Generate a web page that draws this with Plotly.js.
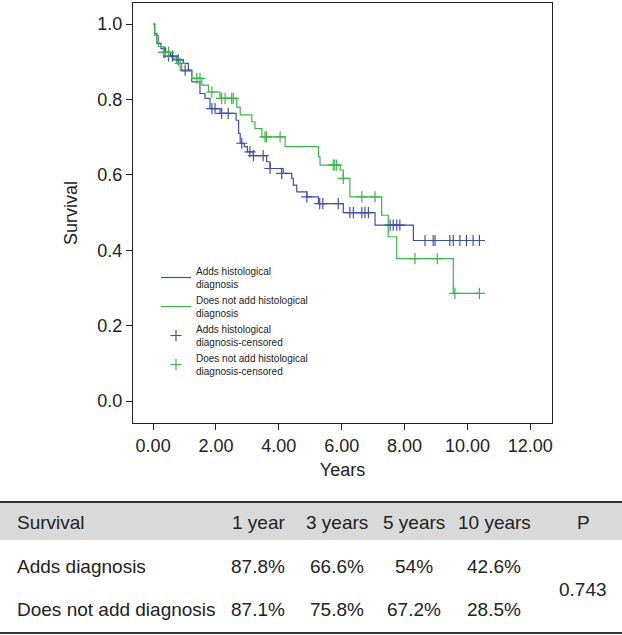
<!DOCTYPE html>
<html>
<head>
<meta charset="utf-8">
<script src="https://cdn.plot.ly/plotly-3.0.1.min.js"></script>
<style>html,body{margin:0;padding:0;background:#fff;}#chart{width:622px;height:635px;}</style>
</head>
<body>
<div id="chart"></div>
<script>
// ---- Kaplan-Meier data ----
var addsTimes = [0, 0.05, 0.12, 0.25, 0.40, 0.55, 0.75, 0.96, 1.12, 1.23, 1.49, 1.65, 1.81, 2.13, 2.64, 2.72, 2.77, 2.90, 3.00, 3.19, 3.61, 3.72, 4.14, 4.41, 4.46, 4.57, 4.89, 5.26, 6.05, 7.06, 8.28, 10.38];
var addsSurv  = [1.0, 0.975, 0.949, 0.935, 0.925, 0.915, 0.905, 0.896, 0.878, 0.847, 0.816, 0.803, 0.776, 0.763, 0.745, 0.71, 0.684, 0.675, 0.661, 0.651, 0.635, 0.617, 0.604, 0.591, 0.573, 0.555, 0.542, 0.524, 0.500, 0.467, 0.426, 0.426];
var addsCensTimes = [0.38, 0.49, 0.62, 0.80, 1.02, 1.87, 1.97, 2.18, 2.39, 2.82, 3.08, 3.19, 3.50, 3.72, 4.09, 4.89, 5.30, 5.40, 5.89, 6.26, 6.37, 6.64, 6.74, 6.85, 7.54, 7.64, 7.75, 7.85, 8.65, 8.91, 8.97, 9.44, 9.55, 9.76, 9.97, 10.18, 10.38];
var addsCensSurv  = [0.925, 0.915, 0.915, 0.905, 0.878, 0.776, 0.776, 0.763, 0.763, 0.684, 0.661, 0.651, 0.651, 0.617, 0.604, 0.542, 0.524, 0.524, 0.524, 0.500, 0.500, 0.500, 0.500, 0.500, 0.467, 0.467, 0.467, 0.467, 0.426, 0.426, 0.426, 0.426, 0.426, 0.426, 0.426, 0.426, 0.426];

var notTimes = [0, 0.05, 0.17, 0.35, 0.60, 0.75, 0.91, 1.23, 1.55, 1.76, 2.13, 2.66, 2.77, 3.14, 3.24, 3.46, 4.20, 5.26, 5.31, 5.95, 6.05, 6.26, 7.27, 7.48, 7.75, 9.55, 10.38];
var notSurv  = [1.0, 0.97, 0.94, 0.925, 0.91, 0.896, 0.875, 0.856, 0.838, 0.82, 0.803, 0.78, 0.759, 0.741, 0.723, 0.701, 0.675, 0.648, 0.626, 0.613, 0.591, 0.542, 0.493, 0.436, 0.378, 0.286, 0.286];
var notCensTimes = [0.33, 0.49, 0.86, 1.39, 1.49, 1.87, 2.18, 2.29, 2.50, 2.55, 3.56, 3.61, 4.04, 5.73, 5.78, 5.84, 6.05, 6.64, 7.06, 8.33, 9.04, 9.60, 10.38];
var notCensSurv  = [0.925, 0.925, 0.896, 0.856, 0.856, 0.82, 0.803, 0.803, 0.803, 0.803, 0.701, 0.701, 0.701, 0.626, 0.626, 0.626, 0.591, 0.542, 0.542, 0.378, 0.378, 0.286, 0.286];

var seriesNames = ['Adds histological<br>diagnosis', 'Does not add histological<br>diagnosis', 'Adds histological<br>diagnosis-censored', 'Does not add histological<br>diagnosis-censored'];

// ---- Table data ----
var tableHeader = ['Survival', '1 year', '3 years', '5 years', '10 years', 'P'];
var rowLabels = ['Adds diagnosis', 'Does not add diagnosis'];
var addsRates = ['87.8%', '66.6%', '54%', '42.6%'];
var notRates  = ['87.1%', '75.8%', '67.2%', '28.5%'];
var pValue = '0.743';

// ---- styling ----
var blue = '#3f51a3', green = '#3db54a';
var FONT = 'Liberation Sans, Arial, Helvetica, sans-serif';

var traces = [
  {x: addsTimes, y: addsSurv, name: seriesNames[0], mode: 'lines', line: {shape: 'hv', color: blue, width: 1.2}},
  {x: notTimes, y: notSurv, name: seriesNames[1], mode: 'lines', line: {shape: 'hv', color: green, width: 1.2}},
  {x: addsCensTimes, y: addsCensSurv, name: seriesNames[2], mode: 'markers',
   marker: {symbol: 'cross-thin', size: 8, color: blue, line: {color: blue, width: 1.2}}},
  {x: notCensTimes, y: notCensSurv, name: seriesNames[3], mode: 'markers',
   marker: {symbol: 'cross-thin', size: 8, color: green, line: {color: green, width: 1.2}}}
];

// pixel -> paper helpers (plot area: x 133..552, y 3..423)
var L = 133, R = 552, T = 3, B = 423;
function px(X) { return (X - L) / (R - L); }
function py(Y) { return (B - Y) / (B - T); }

var shapes = [
  {type: 'rect', xref: 'paper', yref: 'paper', x0: px(0), x1: px(622), y0: py(502), y1: py(540), fillcolor: '#d9d9d9', line: {width: 0}, layer: 'below'},
  {type: 'line', xref: 'paper', yref: 'paper', x0: px(0), x1: px(622), y0: py(502), y1: py(502), line: {color: '#333', width: 2}},
  {type: 'line', xref: 'paper', yref: 'paper', x0: px(0), x1: px(622), y0: py(633), y1: py(633), line: {color: '#333', width: 2}}
];

var colX = [px(15), px(287), px(337), px(414), px(494), px(583)];
var colAnchor = ['left', 'right', 'center', 'center', 'center', 'center'];
var rowY = [py(522), py(566), py(609)];
var annotations = [];
function addText(t, col, y) {
  annotations.push({text: t, xref: 'paper', yref: 'paper', x: colX[col], y: y, xanchor: colAnchor[col], yanchor: 'middle', showarrow: false, font: {family: FONT, size: 19, color: '#222'}});
}
tableHeader.forEach(function (h, i) { addText(h, i, rowY[0]); });
addText(rowLabels[0], 0, rowY[1]);
addText(rowLabels[1], 0, rowY[2]);
addsRates.forEach(function (v, i) { addText(v, i + 1, rowY[1]); });
notRates.forEach(function (v, i) { addText(v, i + 1, rowY[2]); });
addText(pValue, 5, py(589));

var layout = {
  width: 622, height: 635,
  margin: {l: L, r: 622 - R, t: T, b: 635 - B},
  paper_bgcolor: '#fff', plot_bgcolor: '#fff',
  font: {family: FONT, color: '#222'},
  showlegend: true,
  legend: {x: px(156), y: py(258), xanchor: 'left', yanchor: 'top', bgcolor: 'rgba(0,0,0,0)',
           font: {family: FONT, size: 10, color: '#222'}, itemwidth: 30, tracegroupgap: 0},
  xaxis: {range: [-0.64, 12.69], tickvals: [0, 2, 4, 6, 8, 10, 12], tickformat: '.2f',
          showgrid: false, zeroline: false, showline: true, mirror: true, linecolor: '#222', linewidth: 1.2,
          ticks: 'outside', ticklen: 6, tickcolor: '#222', tickfont: {family: FONT, size: 18, color: '#222'},
          title: {text: 'Years', font: {family: FONT, size: 18, color: '#222'}, standoff: 8}},
  yaxis: {range: [-0.058, 1.056], tickvals: [0, 0.2, 0.4, 0.6, 0.8, 1.0], tickformat: '.1f',
          showgrid: false, zeroline: false, showline: true, mirror: true, linecolor: '#222', linewidth: 1.2,
          ticks: 'outside', ticklen: 6, tickcolor: '#222', tickfont: {family: FONT, size: 18, color: '#222'},
          title: {text: 'Survival', font: {family: FONT, size: 18, color: '#222'}, standoff: 14}},
  shapes: shapes,
  annotations: annotations
};

Plotly.newPlot('chart', traces, layout, {displayModeBar: false, staticPlot: true});
</script>
</body>
</html>
